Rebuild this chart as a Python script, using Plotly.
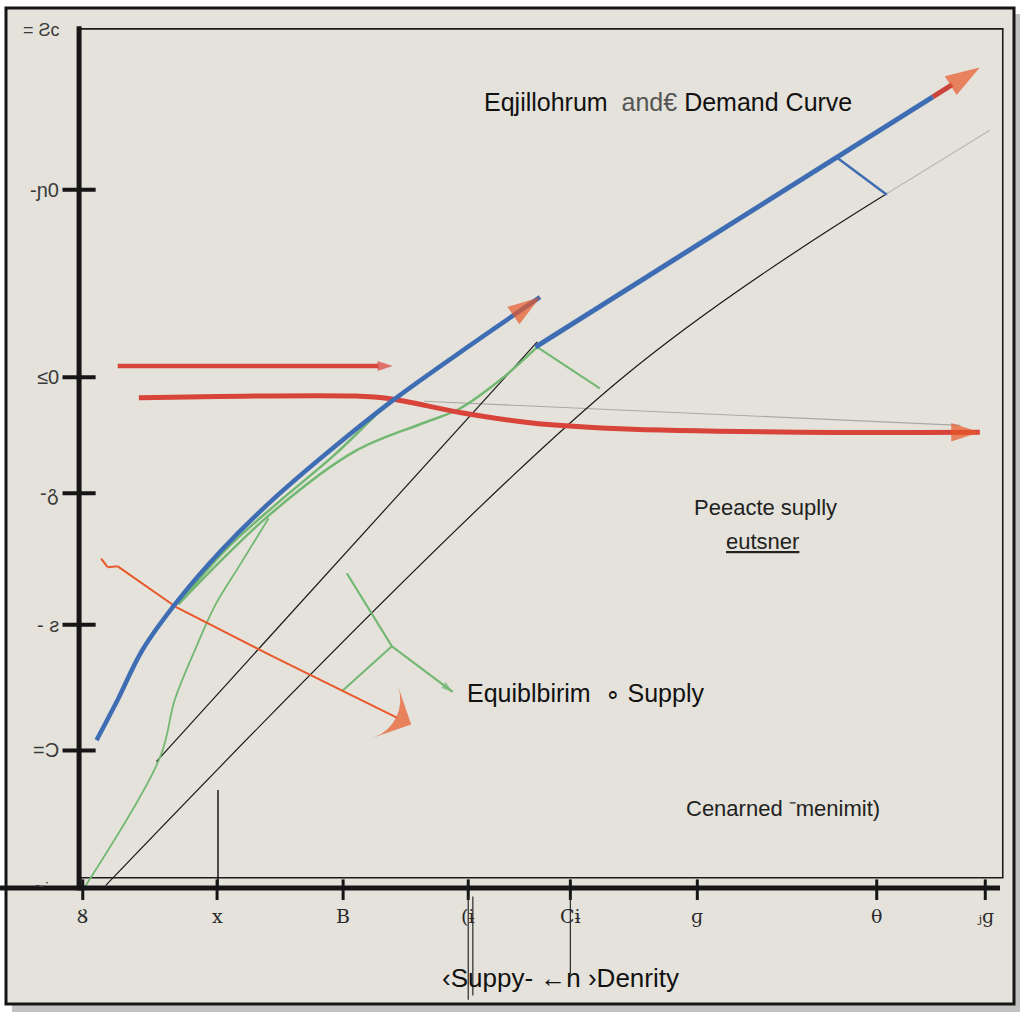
import plotly.graph_objects as go

# ---------------- data (quantity on x, price on y) ----------------
demand_x = [0.18, 0.41, 0.68, 1.07, 1.54, 2.09, 2.72, 3.40, 4.24, 5.00]
demand_y = [1.72, 2.19, 2.77, 3.35, 3.93, 4.51, 5.09, 5.67, 6.31, 6.87]

demand2_x = [4.95, 9.27]
demand2_y = [6.29, 9.20]
demand2_tip_x = [9.27, 9.78]
demand2_tip_y = [9.20, 9.54]

black_a_x = [0.83, 4.97]
black_a_y = [1.47, 6.35]
black_b_x = [0.28, 5.87, 8.75]
black_b_y = [0.03, 5.91, 8.06]
faint_b_x = [8.75, 9.89]
faint_b_y = [8.06, 8.81]

green_a_x = [1.07, 1.58, 2.14, 2.76, 3.30, 3.45]
green_a_y = [3.30, 3.93, 4.47, 5.03, 5.58, 5.70]
green_b_x = [1.07, 2.05, 2.99, 3.74, 4.12, 4.57, 4.98]
green_b_y = [3.30, 4.33, 5.08, 5.41, 5.57, 5.91, 6.30]
green_c_x = [0.05, 0.87, 1.03, 1.25, 1.47, 1.74, 2.05]
green_c_y = [0.01, 1.52, 2.19, 2.77, 3.29, 3.76, 4.30]

green_arrow_x = [2.90, 3.39, 4.05]
green_arrow_y = [3.66, 2.81, 2.28]
green_branch_x = [3.39, 2.85]
green_branch_y = [2.81, 2.29]
green_tick_x = [4.97, 5.65]
green_tick_y = [6.29, 5.81]
blue_tick_x = [8.23, 8.77]
blue_tick_y = [8.49, 8.06]

red_short_x = [0.41, 3.40]
red_short_y = [6.07, 6.07]
red_long_x = [0.64, 2.99, 3.37, 4.13, 4.89, 5.87, 7.83, 9.78]
red_long_y = [5.70, 5.72, 5.69, 5.53, 5.41, 5.34, 5.30, 5.30]
gray_faint_x = [3.74, 9.57]
gray_faint_y = [5.66, 5.38]

orange_x = [0.23, 0.30, 0.41, 1.04, 2.10, 3.37, 3.60]
orange_y = [3.83, 3.73, 3.74, 3.27, 2.69, 2.02, 1.90]

vert_x = [1.50, 1.50]
vert_y = [0.00, 1.14]

y_tick_vals = [8.12, 5.94, 4.59, 3.06, 1.60]
y_tick_labels = ["-\u0272\u0030", "\u2264\u0030", "-\u10d2", "- \u01a8", "=\u0186"]
y_top_label = "= \u01a7c"
x_tick_vals = [0.03, 1.49, 2.86, 4.22, 5.33, 6.71, 8.66, 9.84]
x_tick_labels = ["\u0222", "x", "B", "(\u0268", "C\u0268", "\u0261", "\u03b8", "\u2c7c\u0261"]

title_text = "Eqjillohrum  <span style='color:#555'>and\u20ac</span> Demand Curve"
label_pract = "Peeacte suplly"
label_eut = "eutsner"
label_equil = "Equiblbirim  \u2218 Supply"
label_gen = "Cenarned \u207bmenimit)"
x_axis_title = "\u2039Suppy- \u2190n \u203aDenrity"

# ---------------- styling ----------------
BG = "#e4e2da"
BLUE = "#3f6db4"
RED = "#d8433a"
ORANGE = "#e8582a"
GREEN = "#72b872"
FONT = "Liberation Sans Narrow, Liberation Sans, Arial Narrow, sans-serif"

# pixel mapping: x=0 at px 80, 92 px/unit ; y=0 at py 888, 86 px/unit
XR = [-80 / 92, (1024 - 80) / 92]
YR = [(888 - 1024) / 86, 888 / 86]

fig = go.Figure()


def line(x, y, color, width, opacity=1.0, shape="spline"):
    fig.add_trace(go.Scatter(x=x, y=y, mode="lines", line=dict(color=color, width=width, shape=shape),
                             opacity=opacity, hoverinfo="skip", showlegend=False))


def arrow_line(x, y, color, width, head_color, head_size, shape="spline", symbol="arrow"):
    n = len(x)
    fig.add_trace(go.Scatter(
        x=x, y=y, mode="lines+markers",
        line=dict(color=color, width=width, shape=shape),
        marker=dict(symbol=symbol, angleref="previous",
                    size=[0] * (n - 1) + [head_size],
                    color=head_color, line=dict(width=0)),
        hoverinfo="skip", showlegend=False))


# thin/background lines
line(gray_faint_x, gray_faint_y, "#a9a9a4", 1.2, shape="linear")
line(faint_b_x, faint_b_y, "#b8b8b2", 1.2, shape="linear")
line(black_a_x, black_a_y, "#1a1a1a", 1.2, shape="linear")
line(black_b_x, black_b_y, "#1a1a1a", 1.2)
line(vert_x, vert_y, "#1a1a1a", 1.5, shape="linear")

# green curves
line(green_c_x, green_c_y, GREEN, 1.8)
line(green_b_x, green_b_y, GREEN, 2.5)
line(green_a_x, green_a_y, GREEN, 2.5)
line(green_tick_x, green_tick_y, GREEN, 2, shape="linear")
line(green_branch_x, green_branch_y, GREEN, 2, shape="linear")
arrow_line(green_arrow_x, green_arrow_y, GREEN, 2.2, GREEN, 12, shape="linear")

# red arrows
arrow_line(red_short_x, red_short_y, RED, 4.5, RED, 16, shape="linear")
arrow_line(red_long_x, red_long_y, RED, 5, ORANGE, 30)
arrow_line(orange_x, orange_y, ORANGE, 2, ORANGE, 40, shape="linear", symbol="arrow-wide")

# blue demand curves
arrow_line(demand_x, demand_y, BLUE, 4.5, ORANGE, 34)
line(demand2_x, demand2_y, BLUE, 5, shape="linear")
arrow_line(demand2_tip_x, demand2_tip_y, "#c9443a", 5, ORANGE, 36, shape="linear")
line(blue_tick_x, blue_tick_y, BLUE, 2.5, shape="linear")

# ---------------- frame, axes, ticks (shapes) ----------------
shapes = []
shapes.append(dict(type="rect", xref="paper", yref="paper", x0=12 / 1024, x1=1020 / 1024,
                   y0=1 - 1012 / 1024, y1=1 - 14 / 1024, fillcolor="#9a9a96", line=dict(width=0),
                   layer="below", opacity=0.6))
shapes.append(dict(type="rect", xref="paper", yref="paper", x0=6 / 1024, x1=1014 / 1024,
                   y0=1 - 1004 / 1024, y1=1 - 8 / 1024, fillcolor=BG,
                   line=dict(color="#151515", width=3), layer="below"))
shapes.append(dict(type="rect", xref="x", yref="y", x0=0, x1=10.03, y0=0.12, y1=9.99,
                   line=dict(color="#1a1a1a", width=1.6), layer="below"))
shapes.append(dict(type="line", xref="x", yref="y", x0=-0.01, x1=-0.01, y0=-0.03, y1=10.02,
                   line=dict(color="#161616", width=5)))
shapes.append(dict(type="line", xref="x", yref="y", x0=-0.87, x1=10.0, y0=0, y1=0,
                   line=dict(color="#161616", width=5)))
for v in y_tick_vals:
    shapes.append(dict(type="line", xref="x", yref="y", x0=-0.19, x1=0.17, y0=v, y1=v,
                       line=dict(color="#161616", width=4)))
for v in x_tick_vals:
    shapes.append(dict(type="line", xref="x", yref="y", x0=v, x1=v, y0=0.1, y1=-0.14,
                       line=dict(color="#161616", width=3)))
for v, bottom in [(x_tick_vals[3], -1.3), (x_tick_vals[3] + 0.05, -1.25), (x_tick_vals[4], -1.0)]:
    shapes.append(dict(type="line", xref="x", yref="y", x0=v, x1=v, y0=-0.1, y1=bottom,
                       line=dict(color="#2a2a2a", width=1.2)))

# ---------------- text ----------------
ann = []
for v, t in zip(y_tick_vals, y_tick_labels):
    ann.append(dict(x=-0.21, y=v, xref="x", yref="y", text=t, showarrow=False, xanchor="right",
                    font=dict(family=FONT, size=20, color="#3a3a3a")))
ann.append(dict(x=-0.2, y=9.98, xref="x", yref="y", text=y_top_label, showarrow=False, xanchor="right",
                font=dict(family=FONT, size=18, color="#3a3a3a")))
ann.append(dict(x=-0.3, y=0.02, xref="x", yref="y", text="~\u02d1", showarrow=False, xanchor="right",
                font=dict(family=FONT, size=18, color="#3a3a3a")))
for v, t in zip(x_tick_vals, x_tick_labels):
    ann.append(dict(x=v, y=-0.33, xref="x", yref="y", text=t, showarrow=False,
                    font=dict(family="DejaVu Serif, serif", size=19, color="#2a2a2a")))

ann.append(dict(x=6.39, y=9.14, xref="x", yref="y", text=title_text, showarrow=False,
                font=dict(family=FONT, size=25, color="#111")))
ann.append(dict(x=7.45, y=4.43, xref="x", yref="y", text=label_pract, showarrow=False,
                font=dict(family=FONT, size=22, color="#222")))
ann.append(dict(x=7.42, y=4.03, xref="x", yref="y", text="<u>" + label_eut + "</u>", showarrow=False,
                font=dict(family=FONT, size=22, color="#222")))
ann.append(dict(x=4.18, y=2.27, xref="x", yref="y", text=label_equil, showarrow=False, xanchor="left",
                font=dict(family=FONT, size=25, color="#111")))
ann.append(dict(x=7.64, y=0.93, xref="x", yref="y", text=label_gen, showarrow=False,
                font=dict(family=FONT, size=22, color="#222")))
ann.append(dict(x=5.22, y=-1.05, xref="x", yref="y", text=x_axis_title, showarrow=False,
                font=dict(family=FONT, size=26, color="#111")))

fig.update_layout(
    width=1024, height=1024,
    margin=dict(l=0, r=0, t=0, b=0),
    paper_bgcolor="#ffffff",
    plot_bgcolor="rgba(0,0,0,0)",
    xaxis=dict(range=XR, visible=False, fixedrange=True),
    yaxis=dict(range=YR, visible=False, fixedrange=True),
    shapes=shapes,
    annotations=ann,
    showlegend=False,
)

fig.write_html("out.html")
